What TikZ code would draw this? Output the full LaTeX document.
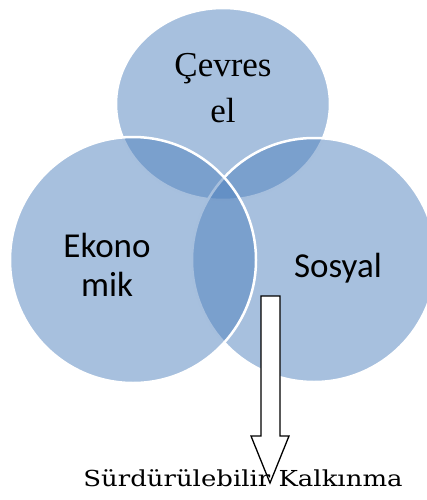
\documentclass[tikz,border=0pt]{standalone}
\usepackage{fontspec}
\setmainfont{Liberation Serif}
\newfontfamily\calibrifont{Carlito}
\newfontfamily\bookfont{DejaVu Serif}
\definecolor{vennblue}{HTML}{4F81BD}

\begin{document}
\begin{tikzpicture}[x=1pt,y=-1pt,
  venn/.style={fill=vennblue,fill opacity=0.5,draw=white,line width=2.5pt},
  serifbig/.style={font=\fontsize{35}{46}\selectfont,align=center,anchor=base},
  sansbig/.style={font=\calibrifont\fontsize{35}{39}\selectfont,align=center,anchor=base}]
\useasboundingbox (0,0) rectangle (427,500);
\draw[venn] (223,104) ellipse [x radius=107,y radius=96];
\draw[venn] (314,260) circle [radius=122];
\draw[venn] (133,260) circle [radius=123];
\node[serifbig] (cevre) at (223,122) {Çevres\\el};
\node[sansbig] (ekonomi) at (107,296) {Ekono\\mik};
\node[sansbig] (sosyal) at (338,277) {Sosyal};
\draw[fill=white,line width=1.3pt] (261,296) -- (280,296) -- (280,436) -- (289,436)
  -- (270,483) -- (251,436) -- (261,436) -- cycle;
\node[anchor=base,font=\bookfont\fontsize{22}{26}\selectfont] (kalkinma) at (243,486)
  {\scalebox{1.18}[1]{Sürdürülebilir Kalkınma}};
\end{tikzpicture}
\end{document}
